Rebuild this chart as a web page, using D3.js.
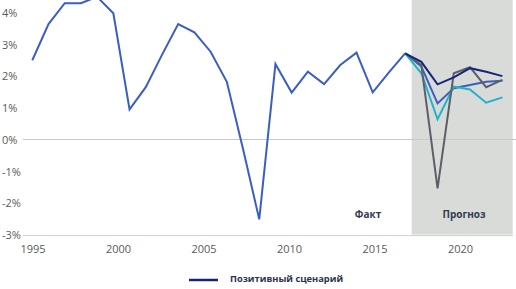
<!DOCTYPE html>
<html>
<head>
<meta charset="utf-8">
<script src="https://cdn.jsdelivr.net/npm/d3@7"></script>
<style>
  body { margin: 0; background: #fff; }
  svg { display: block; font-family: "Open Sans", sans-serif; }
  .tick text { fill: #5a5a5a; font-size: 11px; font-family: "Open Sans", sans-serif; }
</style>
</head>
<body>
<svg width="516" height="289"></svg>
<script>
// historical US GDP growth, %
var histYears = d3.range(1995, 2019);
var histValues = [2.5, 3.64, 4.3, 4.3, 4.5, 3.98, 0.95, 1.65, 2.67, 3.64, 3.38, 2.77,
                  1.82, -0.3, -2.52, 2.38, 1.48, 2.14, 1.75, 2.35, 2.74, 1.49, 2.12, 2.72];

// forecast scenarios 2018-2024
var fcYears = d3.range(2018, 2025);
var scenarioNames = ["Базовый", "Негативный", "Кризисный", "Позитивный сценарий"];
var scenarioValues = [
  [2.72, 2.3, 1.14, 1.62, 1.72, 1.82, 1.85],
  [2.72, 2.09, 0.64, 1.67, 1.58, 1.16, 1.33],
  [2.72, 2.35, -1.54, 2.09, 2.28, 1.65, 1.88],
  [2.72, 2.45, 1.74, 1.96, 2.25, 2.14, 2.0]
];
var scenarioColors = ["#3b5fc0", "#22b3c6", "#5b6068", "#16257a"];

var yTicks = [4, 3, 2, 1, 0, -1, -2, -3];
var xTickYears = [1995, 2000, 2005, 2010, 2015, 2020];

var svg = d3.select("svg");

var x = d3.scaleLinear().domain([1995, 2024]).range([32.3, 502.4]);
// the category labels in the original sit on a slightly wider spacing
var xLabel = d3.scaleLinear().domain([1995, 2020]).range([32.5, 460]);
var y = d3.scaleLinear().domain([0, 1]).range([139.5, 107.8]);

// forecast band
svg.append("rect")
  .attr("x", 411.7).attr("y", 0)
  .attr("width", 101).attr("height", y(-3) - 0)
  .attr("fill", "#d9dbd9");

// zero and bottom lines
svg.append("line")
  .attr("x1", 23).attr("x2", 516)
  .attr("y1", y(0)).attr("y2", y(0))
  .attr("stroke", "#c8c8c8").attr("stroke-width", 1);
svg.append("line")
  .attr("x1", 23).attr("x2", 513)
  .attr("y1", y(-3) + 1).attr("y2", y(-3) + 1)
  .attr("stroke", "#cfcfcf").attr("stroke-width", 1);

// y labels
svg.append("g")
  .attr("transform", "translate(2,0)")
  .call(d3.axisRight(y).tickValues(yTicks).tickSize(0).tickPadding(0)
        .tickFormat(function(d){ return d + "%"; }))
  .call(function(g){ g.select(".domain").remove(); })
  .selectAll("text").attr("dy", "0.35em");

// x labels
svg.append("g")
  .attr("transform", "translate(0," + (y(-3) + 4) + ")")
  .call(d3.axisBottom(xLabel).tickValues(xTickYears).tickSize(0).tickPadding(7)
        .tickFormat(d3.format("d")))
  .call(function(g){ g.select(".domain").remove(); });

var line = d3.line()
  .x(function(d){ return x(d[0]); })
  .y(function(d){ return y(d[1]); });

var plot = svg.append("g");

scenarioValues.forEach(function(vals, i){
  plot.append("path")
    .datum(d3.zip(fcYears, vals))
    .attr("d", line)
    .attr("fill", "none")
    .attr("stroke", scenarioColors[i])
    .attr("stroke-width", 2);
});

plot.append("path")
  .datum(d3.zip(histYears, histValues))
  .attr("d", line)
  .attr("fill", "none")
  .attr("stroke", "#3b5fc0")
  .attr("stroke-width", 2);

svg.append("text")
  .attr("x", 368).attr("y", 218)
  .attr("text-anchor", "middle")
  .attr("font-size", 10).attr("font-weight", "bold")
  .attr("fill", "#333a50")
  .text("Факт");
svg.append("text")
  .attr("x", 464).attr("y", 218)
  .attr("text-anchor", "middle")
  .attr("font-size", 10).attr("font-weight", "bold")
  .attr("fill", "#333a50")
  .text("Прогноз");

// legend
var legend = svg.append("g").attr("transform", "translate(189,280)");
legend.append("line")
  .attr("x1", 0).attr("x2", 29)
  .attr("stroke", scenarioColors[3]).attr("stroke-width", 2.5);
legend.append("text")
  .attr("x", 41).attr("y", -1).attr("dy", "0.32em")
  .attr("font-size", 9.3).attr("font-weight", "bold")
  .attr("fill", "#2a3350")
  .text(scenarioNames[3]);
</script>
</body>
</html>
